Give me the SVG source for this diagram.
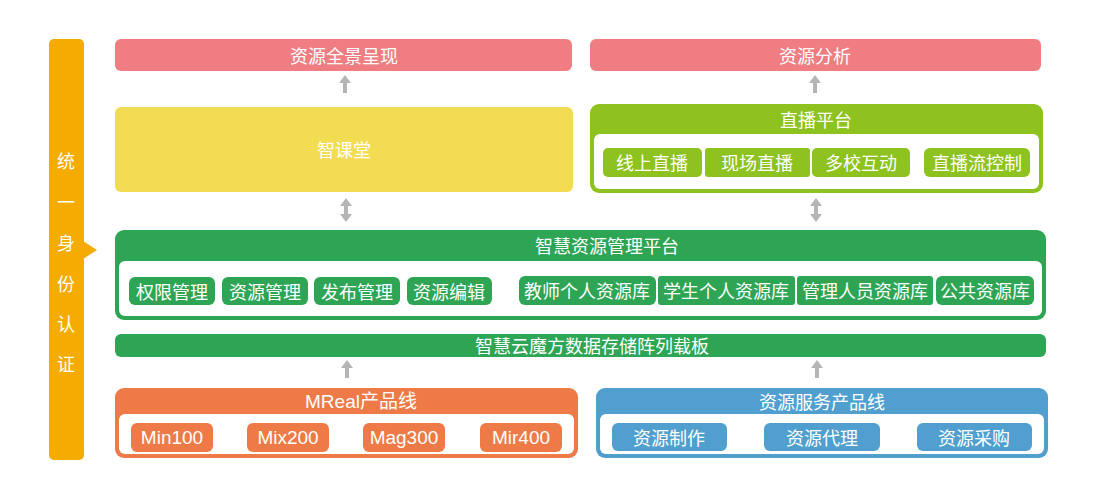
<svg xmlns="http://www.w3.org/2000/svg" width="1100" height="500" viewBox="0 0 1100 500">
<style>
text{font-family:"Noto Sans CJK SC","Liberation Sans",sans-serif;fill:#fff;text-anchor:middle;dominant-baseline:central;font-size:18px}
.lat{font-family:"Liberation Sans","Noto Sans CJK SC",sans-serif;font-size:19px}
.arr{fill:#B5B5B5}
.wh{fill:#fff}
</style>
<rect width="1100" height="500" fill="#fff"/>
<g id="auth">
<rect x="49" y="39" width="35" height="421" rx="5" fill="#F5AB00"/>
<polygon points="83,241 97,250 83,259" fill="#F5AB00"/>
<text x="66" y="160">统</text>
<text x="66" y="201">一</text>
<text x="66" y="242">身</text>
<text x="66" y="283">份</text>
<text x="66" y="323">认</text>
<text x="66" y="363">证</text>
</g>
<g id="overview">
<rect x="115" y="39" width="457" height="32" rx="6" fill="#EF7D82"/>
<text x="344" y="55">资源全景呈现</text>
</g>
<g id="analysis">
<rect x="590" y="39" width="451" height="32" rx="6" fill="#EF7D82"/>
<text x="815" y="55">资源分析</text>
</g>
<g id="classroom">
<rect x="115" y="107" width="458" height="85" rx="6" fill="#F2DD52"/>
<text x="344" y="149">智课堂</text>
</g>
<g id="live">
<rect x="590" y="104" width="453" height="89" rx="9" fill="#8DC21F"/>
<rect x="594" y="134" width="445" height="55" rx="6" class="wh"/>
<text x="816" y="119">直播平台</text>
<rect x="603" y="148" width="99" height="29" rx="5" fill="#8DC21F"/>
<rect x="705" y="148" width="105" height="29" rx="3" fill="#8DC21F"/>
<rect x="812" y="148" width="98" height="29" rx="5" fill="#8DC21F"/>
<rect x="924" y="148" width="106" height="29" rx="6" fill="#8DC21F"/>
<text x="652" y="162">线上直播</text>
<text x="757" y="162">现场直播</text>
<text x="861" y="162">多校互动</text>
<text x="977" y="162">直播流控制</text>
</g>
<g id="platform">
<rect x="115" y="230" width="931" height="90" rx="9" fill="#2EA554"/>
<rect x="119" y="261" width="923" height="55" rx="6" class="wh"/>
<text x="607" y="245">智慧资源管理平台</text>
<rect x="129" y="277" width="86" height="28" rx="6" fill="#2EA554"/>
<rect x="222" y="277" width="86" height="28" rx="6" fill="#2EA554"/>
<rect x="314" y="277" width="86" height="28" rx="6" fill="#2EA554"/>
<rect x="407" y="277" width="85" height="28" rx="6" fill="#2EA554"/>
<text x="172" y="291">权限管理</text>
<text x="265" y="291">资源管理</text>
<text x="357" y="291">发布管理</text>
<text x="449" y="291">资源编辑</text>
<rect x="519" y="276" width="137" height="29" rx="6" fill="#2EA554"/>
<rect x="658" y="276" width="137" height="29" rx="3" fill="#2EA554"/>
<rect x="797" y="276" width="136" height="29" rx="3" fill="#2EA554"/>
<rect x="936" y="276" width="98" height="29" rx="6" fill="#2EA554"/>
<text x="587" y="290">教师个人资源库</text>
<text x="726" y="290">学生个人资源库</text>
<text x="865" y="290">管理人员资源库</text>
<text x="985" y="290">公共资源库</text>
</g>
<g id="storage">
<rect x="115" y="334" width="931" height="23" rx="6" fill="#2EA554"/>
<text x="592" y="345">智慧云魔方数据存储阵列载板</text>
</g>
<g id="mreal">
<rect x="115" y="388" width="463" height="70" rx="9" fill="#EE7B47"/>
<rect x="119" y="414" width="455" height="40" rx="6" class="wh"/>
<text x="361" y="401" class="lat">MReal产品线</text>
<rect x="131" y="423" width="82" height="29" rx="6" fill="#EE7B47"/>
<rect x="247" y="423" width="82" height="29" rx="6" fill="#EE7B47"/>
<rect x="363" y="423" width="82" height="29" rx="6" fill="#EE7B47"/>
<rect x="480" y="423" width="82" height="29" rx="6" fill="#EE7B47"/>
<text x="172" y="437" class="lat">Min100</text>
<text x="288" y="437" class="lat">Mix200</text>
<text x="404" y="437" class="lat">Mag300</text>
<text x="521" y="437" class="lat">Mir400</text>
</g>
<g id="service">
<rect x="596" y="388" width="452" height="70" rx="9" fill="#519FCF"/>
<rect x="600" y="414" width="444" height="40" rx="6" class="wh"/>
<text x="822" y="401">资源服务产品线</text>
<rect x="612" y="423" width="115" height="28" rx="6" fill="#519FCF"/>
<rect x="764" y="423" width="116" height="28" rx="6" fill="#519FCF"/>
<rect x="917" y="423" width="115" height="28" rx="6" fill="#519FCF"/>
<text x="669" y="437">资源制作</text>
<text x="822" y="437">资源代理</text>
<text x="974" y="437">资源采购</text>
</g>
<g id="connectors" class="arr">
<path d="M345,75 L351,83 L347,83 L347,93 L343,93 L343,83 L339,83 Z"/>
<path d="M815,75 L821,83 L817,83 L817,93 L813,93 L813,83 L809,83 Z"/>
<path d="M346,198 L352,206 L348,206 L348,214 L352,214 L346,222 L340,214 L344,214 L344,206 L340,206 Z"/>
<path d="M816,198 L822,206 L818,206 L818,214 L822,214 L816,222 L810,214 L814,214 L814,206 L810,206 Z"/>
<path d="M347,360 L353,368 L349,368 L349,378 L345,378 L345,368 L341,368 Z"/>
<path d="M817,360 L823,368 L819,368 L819,378 L815,378 L815,368 L811,368 Z"/>
</g>
</svg>
